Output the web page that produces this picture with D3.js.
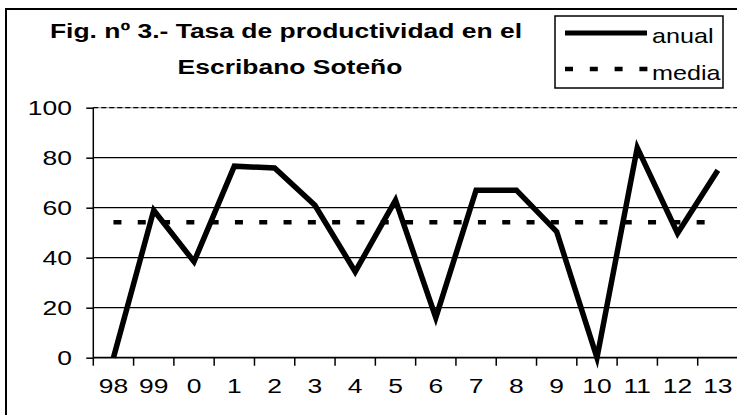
<!DOCTYPE html>
<html>
<head>
<meta charset="utf-8">
<script src="https://cdn.jsdelivr.net/npm/d3@7"></script>
<style>
  body { margin: 0; background: #fff; }
  svg { display: block; font-family: "Liberation Sans", Arial, sans-serif; }
</style>
</head>
<body>
<svg id="chart"></svg>
<script>
const years = ["98", "99", "0", "1", "2", "3", "4", "5", "6", "7", "8", "9", "10", "11", "12", "13"];
const anual = [0, 59, 38.4, 76.6, 75.9, 61, 34.4, 63, 16, 67, 67, 50.4, 0, 84, 49.8, 75];
const media = [54.2, 54.2, 54.2, 54.2, 54.2, 54.2, 54.2, 54.2, 54.2, 54.2, 54.2, 54.2, 54.2, 54.2, 54.2, 54.2];
const yTicks = [0, 20, 40, 60, 80, 100];
const titleLines = ["Fig. nº 3.- Tasa de productividad en el", "Escribano Soteño"];

const width = 737, height = 415;
const margin = { top: 107.7, right: -1, bottom: 57.3, left: 93.3 };
const sx = 1.26; // the original picture is stretched sideways

const svg = d3.select("#chart").attr("width", width).attr("height", height);

// outer frame (runs off the right and bottom edges)
svg.append("rect")
    .attr("x", 6).attr("y", 9)
    .attr("width", 760).attr("height", 430)
    .attr("fill", "none").attr("stroke", "#000").attr("stroke-width", 2);

const x = d3.scaleBand()
    .domain(years)
    .range([margin.left, width - margin.right])
    .padding(0);

const y = d3.scaleLinear()
    .domain([0, 100])
    .range([height - margin.bottom, margin.top]);

function label(g, tx, ty, txt, anchor, size, weight) {
    g.append("text")
        .attr("transform", `translate(${tx},${ty}) scale(${sx},1)`)
        .attr("text-anchor", anchor)
        .attr("font-size", size)
        .attr("font-weight", weight || "normal")
        .text(txt);
}

// gridlines
const grid = svg.append("g");
grid.selectAll("line")
    .data(yTicks.filter(d => d > 0 && d < 100))
    .join("line")
    .attr("x1", margin.left).attr("x2", width)
    .attr("y1", d => y(d)).attr("y2", d => y(d))
    .attr("stroke", "#000").attr("stroke-width", 1.3);

// top line at 100 is dashed
grid.append("line")
    .attr("x1", margin.left).attr("x2", width)
    .attr("y1", y(100)).attr("y2", y(100))
    .attr("stroke", "#aaa").attr("stroke-width", 1.3);
grid.append("line")
    .attr("x1", margin.left).attr("x2", width)
    .attr("y1", y(100)).attr("y2", y(100))
    .attr("stroke", "#000").attr("stroke-width", 1.3)
    .attr("stroke-dasharray", "5,3");

// y axis
const yAxis = svg.append("g")
    .attr("transform", `translate(${margin.left},0)`)
    .call(d3.axisLeft(y).tickValues(yTicks).tickSize(7).tickFormat(""));
yAxis.select(".domain").attr("stroke-width", 1.5).attr("d", `M0,${y(100)}V${y(0)}`);
yAxis.selectAll(".tick line").attr("stroke-width", 1.5);
yTicks.forEach(t => label(svg, 72, y(t) + 7.5, String(t), "end", 21));

// x axis, ticks on band edges
const xAxis = svg.append("g")
    .attr("transform", `translate(0,${y(0)})`);
xAxis.append("line")
    .attr("x1", margin.left).attr("x2", width)
    .attr("stroke", "#000").attr("stroke-width", 1.8);
xAxis.selectAll("line.tk")
    .data(years)
    .join("line")
    .attr("class", "tk")
    .attr("x1", d => x(d)).attr("x2", d => x(d))
    .attr("y1", 0).attr("y2", 8)
    .attr("stroke", "#000").attr("stroke-width", 1.5);
years.forEach(d => label(svg, x(d) + x.bandwidth() / 2, y(0) + 35, d, "middle", 21));

// media line
const line = d3.line()
    .x((d, i) => x(years[i]) + x.bandwidth() / 2)
    .y(d => y(d));

svg.append("path")
    .datum(media)
    .attr("d", line)
    .attr("fill", "none")
    .attr("stroke", "#000")
    .attr("stroke-width", 4.5)
    .attr("stroke-dasharray", "8,16.3");

// anual line
svg.append("path")
    .datum(anual)
    .attr("d", line)
    .attr("fill", "none")
    .attr("stroke", "#000")
    .attr("stroke-width", 5.5)
    .attr("stroke-linejoin", "miter")
    .attr("stroke-miterlimit", 10);

// title
label(svg, 286, 38, titleLines[0], "middle", 21, "bold");
label(svg, 290, 74, titleLines[1], "middle", 21, "bold");

// legend
const lg = svg.append("g");
lg.append("rect")
    .attr("x", 555).attr("y", 16)
    .attr("width", 168).attr("height", 72)
    .attr("fill", "#fff").attr("stroke", "#000").attr("stroke-width", 1.5);
lg.append("line")
    .attr("x1", 565).attr("x2", 647).attr("y1", 33).attr("y2", 33)
    .attr("stroke", "#000").attr("stroke-width", 5);
lg.append("line")
    .attr("x1", 565).attr("x2", 648).attr("y1", 69).attr("y2", 69)
    .attr("stroke", "#000").attr("stroke-width", 4.5)
    .attr("stroke-dasharray", "8,16.8");
label(lg, 652, 43, "anual", "start", 20);
label(lg, 652, 80, "media", "start", 20);
</script>
</body>
</html>
